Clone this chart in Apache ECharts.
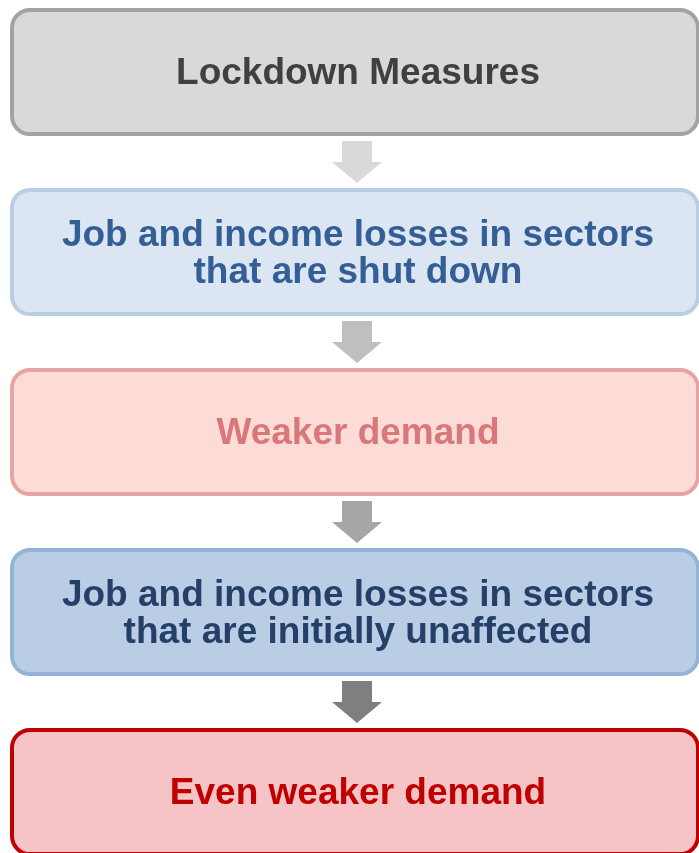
<!DOCTYPE html>
<html>
<head>
<meta charset="utf-8">
<title>Lockdown demand spiral</title>
<script src="https://cdn.jsdelivr.net/npm/echarts@6/dist/echarts.min.js"></script>
<style>
  html, body { margin: 0; padding: 0; background: #fff; }
  #flow-chart { width: 699px; height: 853px; }
</style>
</head>
<body>
<div id="flow-chart"></div>
<script>
// steps of the flow, top to bottom
const steps = [
  "Lockdown Measures",
  "Job and income losses in sectors\nthat are shut down",
  "Weaker demand",
  "Job and income losses in sectors\nthat are initially unaffected",
  "Even weaker demand"
];
// step positions on the (hidden) vertical axis
const stepPos = [0, 1, 2, 3, 4];
// arrows link step i -> step i + 1
const links = [0, 1, 2, 3];

// box styles (fill, border, text)
const boxFill = ["#d9d9d9", "#dce6f2", "#fddcd8", "#b9cde5", "#f6c4c6"];
const boxStroke = ["#a3a3a3", "#b9cde5", "#e5a5a5", "#95b3d7", "#c00000"];
const boxText = ["#404040", "#335f96", "#d9777a", "#243f68", "#c00000"];
const arrowFill = ["#d9d9d9", "#bfbfbf", "#a6a6a6", "#7f7f7f"];

const chart = echarts.init(document.getElementById("flow-chart"));

function renderBox(params, api) {
  const i = params.dataIndex;
  const c = api.coord([0, api.value(1)]);
  const band = api.size([0, 1])[1];
  const x0 = api.coord([0, 0])[0];
  const x1 = api.coord([1, 0])[0];
  const h = band * 0.69;
  return {
    type: "group",
    children: [
      {
        type: "rect",
        shape: { x: x0, y: c[1] - h / 2, width: x1 - x0, height: h, r: 18 },
        style: { fill: boxFill[i], stroke: boxStroke[i], lineWidth: 4 }
      },
      {
        type: "text",
        style: {
          text: steps[i],
          x: (x0 + x1) / 2 + 3,
          y: c[1] + 2,
          align: "center",
          verticalAlign: "middle",
          fontFamily: '"Liberation Sans", Arial, sans-serif',
          fontWeight: "bold",
          fontSize: 37,
          lineHeight: 37,
          fill: boxText[i]
        }
      }
    ]
  };
}

function renderArrow(params, api) {
  const i = params.dataIndex;
  const a = api.coord([0.5, api.value(1)]);
  const b = api.coord([0.5, api.value(1) + 1]);
  const cx = a[0] + 2;
  const top = (a[1] + b[1]) / 2 - 21;
  // shaft 30 wide, head 50 wide
  return {
    type: "polygon",
    shape: {
      points: [
        [cx - 15, top], [cx + 15, top], [cx + 15, top + 21],
        [cx + 25, top + 21], [cx, top + 42], [cx - 25, top + 21],
        [cx - 15, top + 21]
      ]
    },
    style: { fill: arrowFill[i] }
  };
}

chart.setOption({
  animation: false,
  grid: { left: 12, right: 1, top: 0, bottom: 0 },
  xAxis: { type: "value", min: 0, max: 1, show: false },
  yAxis: { type: "value", inverse: true, min: -0.4, max: 4.339, show: false },
  series: [
    {
      type: "custom",
      renderItem: renderArrow,
      data: links.map((k) => [0.5, k]),
      silent: true
    },
    {
      type: "custom",
      renderItem: renderBox,
      data: stepPos.map((p) => [0, p]),
      silent: true
    }
  ]
});
</script>
</body>
</html>
